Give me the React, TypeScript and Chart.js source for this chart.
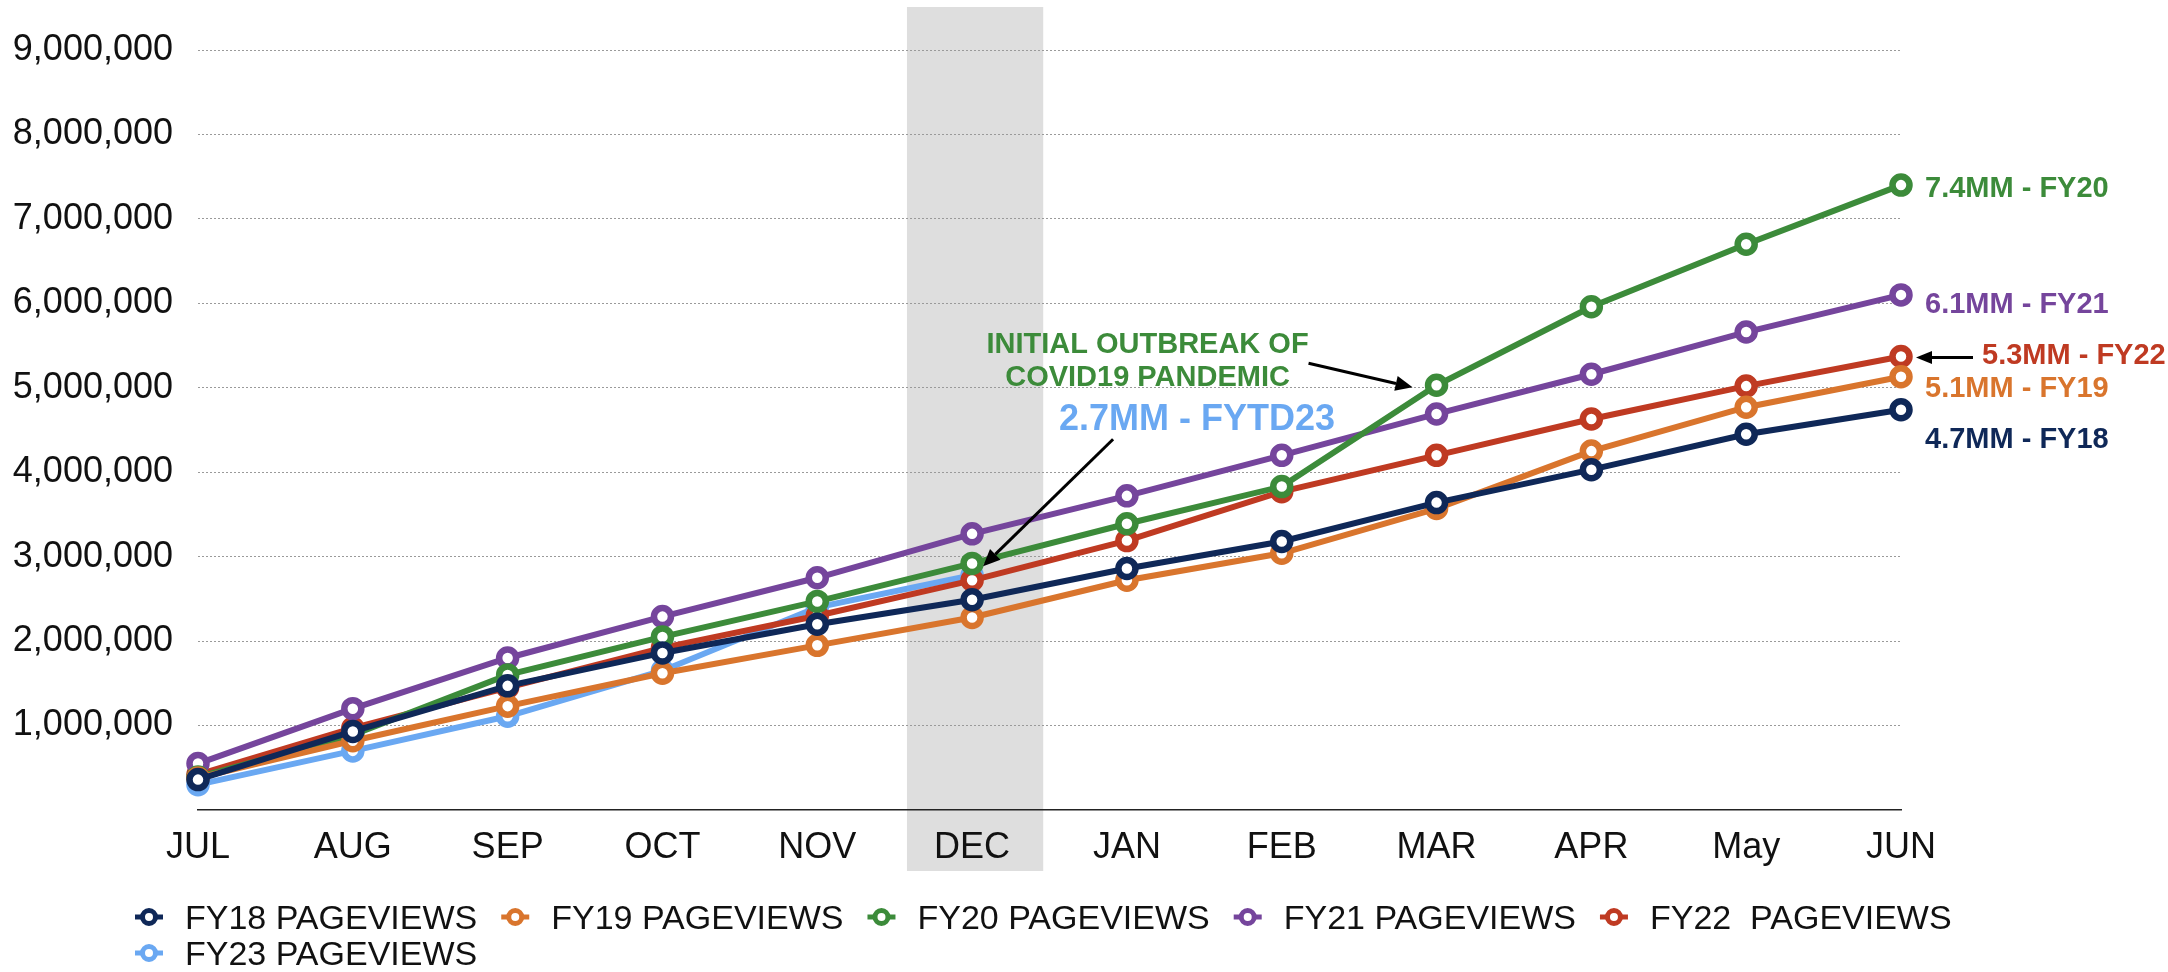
import React, { useEffect, useRef } from 'react';
import { Chart, registerables } from 'chart.js';

Chart.register(...registerables);

// ---------- data ----------
const MONTHS = ['JUL', 'AUG', 'SEP', 'OCT', 'NOV', 'DEC', 'JAN', 'FEB', 'MAR', 'APR', 'May', 'JUN'];
const FY18_PAGEVIEWS = [360000, 930000, 1470000, 1860000, 2200000, 2490000, 2860000, 3180000, 3640000, 4030000, 4450000, 4740000];
const FY19_PAGEVIEWS = [380000, 820000, 1230000, 1620000, 1950000, 2280000, 2720000, 3040000, 3570000, 4250000, 4770000, 5130000];
const FY20_PAGEVIEWS = [390000, 890000, 1600000, 2050000, 2470000, 2920000, 3390000, 3830000, 5030000, 5960000, 6700000, 7400000];
const FY21_PAGEVIEWS = [550000, 1200000, 1800000, 2290000, 2750000, 3270000, 3720000, 4200000, 4690000, 5160000, 5660000, 6100000];
const FY22_PAGEVIEWS = [420000, 970000, 1450000, 1920000, 2300000, 2720000, 3190000, 3770000, 4200000, 4630000, 5020000, 5370000];
const FY23_PAGEVIEWS = [300000, 700000, 1110000, 1650000, 2400000, 2780000, null, null, null, null, null, null];
const SERIES_NAMES = ['FY18 PAGEVIEWS', 'FY19 PAGEVIEWS', 'FY20 PAGEVIEWS', 'FY21 PAGEVIEWS', 'FY22  PAGEVIEWS', 'FY23 PAGEVIEWS'];
const SERIES_COLORS = ['#0f2858', '#d9752d', '#3c8b3a', '#75459c', '#bf3a22', '#6aa8f2'];
const Y_TICK_VALUES = [0, 1000000, 2000000, 3000000, 4000000, 5000000, 6000000, 7000000, 8000000, 9000000];
const END_LABELS = ['4.7MM - FY18', '5.1MM - FY19', '7.4MM - FY20', '6.1MM - FY21', '5.3MM - FY22'];
const FYTD_LABEL = '2.7MM - FYTD23';
const COVID_NOTE = ['INITIAL OUTBREAK OF', 'COVID19 PANDEMIC'];
const HIGHLIGHT_MONTH = 'DEC';
const COVID_MONTH = 'MAR';

// ---------- layout / style (not data) ----------
const FONT = '"Liberation Sans", Arial, Helvetica, sans-serif';
const END_LABEL_LAYOUT = [
  { series: 0, dx: 24, dy: 28, arrow: false },
  { series: 1, dx: 24, dy: 10, arrow: false },
  { series: 2, dx: 24, dy: 2, arrow: false },
  { series: 3, dx: 24, dy: 8, arrow: false },
  { series: 4, dx: 81, dy: -3, arrow: true },
];

function drawArrow(ctx: CanvasRenderingContext2D, x1: number, y1: number, x2: number, y2: number, head = 16, half = 6.5) {
  const ang = Math.atan2(y2 - y1, x2 - x1);
  const bx = x2 - head * Math.cos(ang);
  const by = y2 - head * Math.sin(ang);
  ctx.save();
  ctx.strokeStyle = '#000';
  ctx.fillStyle = '#000';
  ctx.lineWidth = 3;
  ctx.beginPath();
  ctx.moveTo(x1, y1);
  ctx.lineTo(bx, by);
  ctx.stroke();
  ctx.beginPath();
  ctx.moveTo(x2, y2);
  ctx.lineTo(bx + half * Math.sin(ang), by - half * Math.cos(ang));
  ctx.lineTo(bx - half * Math.sin(ang), by + half * Math.cos(ang));
  ctx.closePath();
  ctx.fill();
  ctx.restore();
}

function textMid(ctx: CanvasRenderingContext2D, text: string, x: number, yCenter: number, size: number) {
  ctx.textBaseline = 'alphabetic';
  ctx.fillText(text, x, yCenter + size * 0.358);
}

const bandPlugin = {
  id: 'highlightBand',
  beforeDraw(chart: any) {
    const { ctx, chartArea, scales } = chart;
    const xs = scales.x;
    const idx = MONTHS.indexOf(HIGHLIGHT_MONTH);
    const step = xs.getPixelForValue(1) - xs.getPixelForValue(0);
    const cx = xs.getPixelForValue(idx) + 3;
    const half = step * 0.44;
    ctx.save();
    ctx.fillStyle = '#dedede';
    ctx.fillRect(cx - half, chartArea.top - 43, half * 2, chartArea.bottom - chartArea.top + 43 + 61);
    ctx.restore();
  },
};

const annotationPlugin = {
  id: 'annotations',
  afterDraw(chart: any) {
    const { ctx, chartArea } = chart;
    const last = MONTHS.length - 1;
    ctx.save();
    // end-of-line labels
    const endSize = 29;
    ctx.font = `bold ${endSize}px ${FONT}`;
    END_LABEL_LAYOUT.forEach((l, i) => {
      const pt = chart.getDatasetMeta(l.series).data[last];
      ctx.fillStyle = SERIES_COLORS[l.series];
      ctx.textAlign = 'left';
      textMid(ctx, END_LABELS[i], pt.x + l.dx, pt.y + l.dy, endSize);
      if (l.arrow) {
        drawArrow(ctx, pt.x + 72, pt.y + 1, pt.x + 15, pt.y + 1, 16, 6.5);
      }
    });

    // COVID note
    const mi = MONTHS.indexOf(COVID_MONTH);
    const cp = chart.getDatasetMeta(2).data[mi];
    ctx.fillStyle = SERIES_COLORS[2];
    ctx.textAlign = 'center';
    ctx.font = `bold ${endSize}px ${FONT}`;
    textMid(ctx, COVID_NOTE[0], cp.x - 289, cp.y - 43, endSize);
    textMid(ctx, COVID_NOTE[1], cp.x - 289, cp.y - 10, endSize);
    drawArrow(ctx, cp.x - 128, cp.y - 22, cp.x - 24, cp.y + 2, 17, 7.5);

    // FYTD23 note
    const di = MONTHS.indexOf(HIGHLIGHT_MONTH);
    const fp = chart.getDatasetMeta(5).data[di];
    const fSize = 36;
    ctx.font = `bold ${fSize}px ${FONT}`;
    ctx.fillStyle = SERIES_COLORS[5];
    ctx.textAlign = 'center';
    textMid(ctx, FYTD_LABEL, fp.x + 225, fp.y - 158, fSize);
    drawArrow(ctx, fp.x + 141, fp.y - 136, fp.x + 11, fp.y - 9, 17, 7.5);

    // legend
    const lSize = 34;
    ctx.font = `${lSize}px ${FONT}`;
    ctx.textAlign = 'left';
    const startX = chartArea.left - 49;
    let x = startX;
    let y = chartArea.bottom + 107;
    SERIES_NAMES.forEach((name, i) => {
      const w = ctx.measureText(name).width;
      if (i > 0 && x + 36 + w > chart.width - 4) {
        x = startX;
        y += 36;
      }
      const c = SERIES_COLORS[i];
      ctx.strokeStyle = c;
      ctx.lineWidth = 5;
      ctx.beginPath();
      ctx.moveTo(x - 14, y);
      ctx.lineTo(x + 14, y);
      ctx.stroke();
      ctx.beginPath();
      ctx.arc(x, y, 6.5, 0, Math.PI * 2);
      ctx.fillStyle = '#fff';
      ctx.fill();
      ctx.stroke();
      ctx.fillStyle = '#111';
      textMid(ctx, name, x + 36, y, lSize);
      x += 36 + w + 38;
    });
    ctx.restore();
  },
};

export default function App() {
  const ref = useRef<HTMLCanvasElement | null>(null);
  useEffect(() => {
    if (!ref.current) return;
    const seriesValues = [FY18_PAGEVIEWS, FY19_PAGEVIEWS, FY20_PAGEVIEWS, FY21_PAGEVIEWS, FY22_PAGEVIEWS, FY23_PAGEVIEWS];
    const chart = new Chart(ref.current, {
      type: 'line',
      data: {
        labels: MONTHS,
        datasets: seriesValues.map((vals, i) => ({
          label: SERIES_NAMES[i],
          data: vals,
          borderColor: SERIES_COLORS[i],
          backgroundColor: SERIES_COLORS[i],
          borderWidth: 6,
          pointRadius: 8.5,
          pointBorderWidth: 6.5,
          pointBackgroundColor: '#ffffff',
          pointBorderColor: SERIES_COLORS[i],
          tension: 0,
          fill: false,
          clip: false as any,
        })),
      },
      options: {
        responsive: false,
        animation: false,
        events: [],
        layout: { padding: { left: 0, top: 50, right: 267, bottom: 100 } },
        plugins: {
          legend: { display: false },
          tooltip: { enabled: false },
        },
        scales: {
          x: {
            type: 'category',
            offset: false,
            grid: { display: false, drawTicks: false },
            border: { display: true, color: '#222', width: 1.5 },
            ticks: {
              color: '#111',
              padding: 16,
              autoSkip: false,
              maxRotation: 0,
              font: { family: FONT, size: 36 },
            },
            afterFit: (s: any) => { s.height = 62; },
          },
          y: {
            min: 0,
            max: 9000000,
            afterBuildTicks: (s: any) => { s.ticks = Y_TICK_VALUES.map((v) => ({ value: v })); },
            grid: {
              drawTicks: false,
              lineWidth: 1,
              color: (c: any) => (c.tick && c.tick.value === 0 ? 'rgba(0,0,0,0)' : '#9a9a9a'),
            },
            border: { display: false, dash: [2, 2] },
            ticks: {
              color: '#111',
              padding: 25,
              font: { family: FONT, size: 36 },
              callback: (v: any) => (Number(v) === 0 ? '' : Number(v).toLocaleString('en-US')),
            },
            afterFit: (s: any) => { s.width = 198; },
          },
        },
      },
      plugins: [bandPlugin, annotationPlugin],
    });
    return () => chart.destroy();
  }, []);

  return (
    <div style={{ position: 'fixed', left: 0, top: 0, width: 2168, height: 972, background: '#fff' }}>
      <canvas ref={ref} width={2168} height={972} style={{ width: 2168, height: 972, display: 'block' }} />
    </div>
  );
}
